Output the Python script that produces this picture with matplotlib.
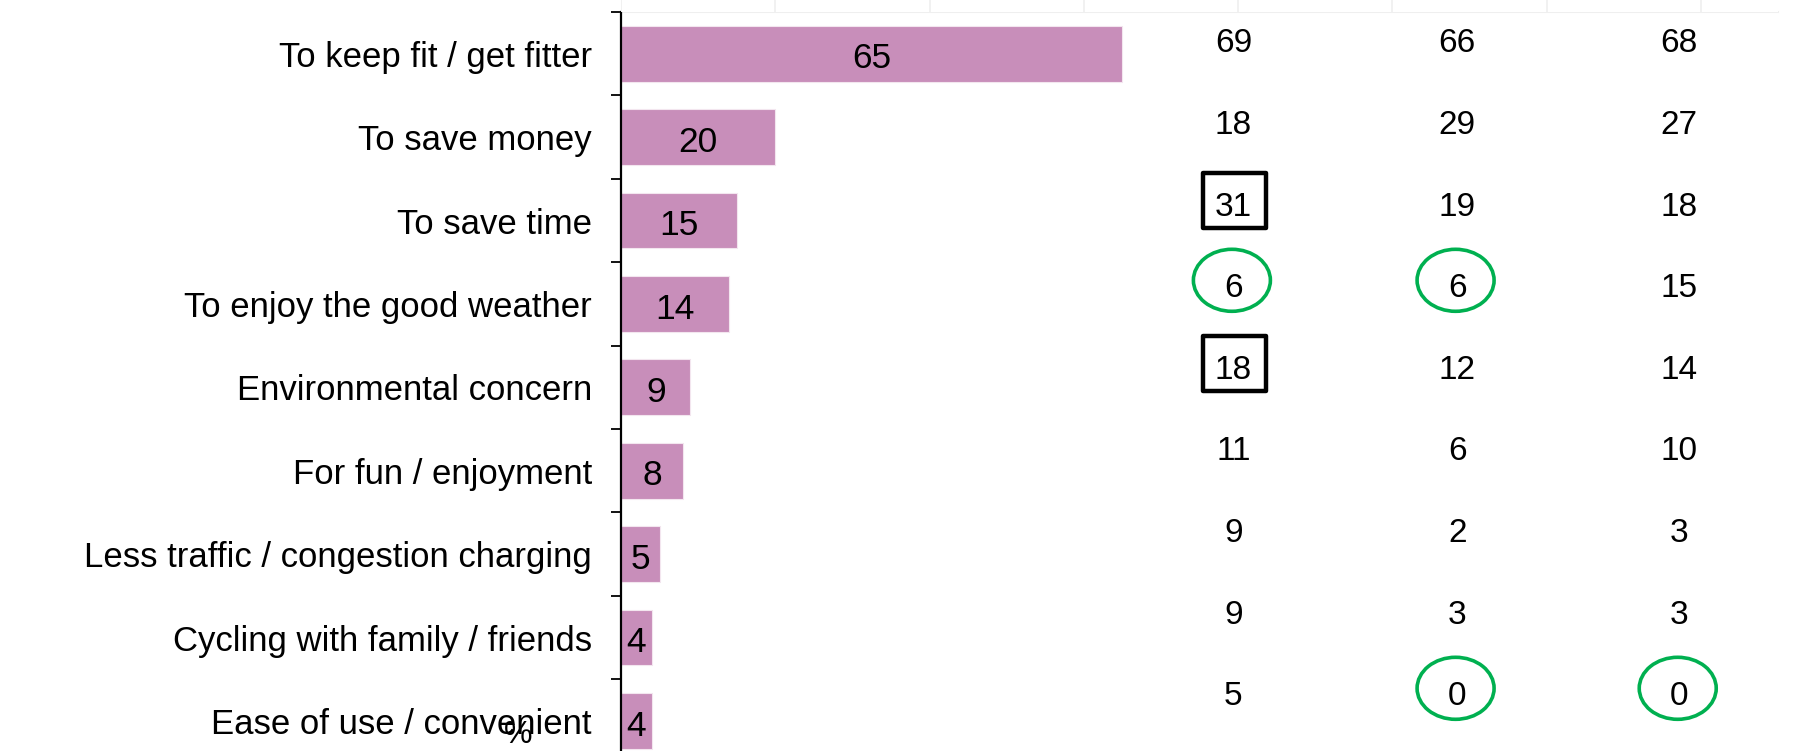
import matplotlib
matplotlib.use("Agg")
import matplotlib.pyplot as plt
from matplotlib.patches import Rectangle, Ellipse
from matplotlib.transforms import blended_transform_factory
import numpy as np

categories = ["To keep fit / get fitter", "To save money", "To save time",
              "To enjoy the good weather", "Environmental concern",
              "For fun / enjoyment", "Less traffic / congestion charging",
              "Cycling with family / friends", "Ease of use / convenient"]
overall = [65, 20, 15, 14, 9, 8, 5, 4, 4]
col1 = [69, 18, 31, 6, 18, 11, 9, 9, 5]
col2 = [66, 29, 19, 6, 12, 6, 2, 3, 0]
col3 = [68, 27, 18, 15, 14, 10, 3, 3, 0]
boxed = [(0, 2), (0, 4)]          # (column, row)
circled = [(0, 3), (1, 3), (1, 8), (2, 8)]

W, H = 1816, 751
plt.rcParams['font.family'] = ['Liberation Sans', 'DejaVu Sans']
fig = plt.figure(figsize=(W / 100, H / 100), dpi=100)

left_px, right_px, top_px = 621, 1778, 12
row_px = 83.4
n = len(categories)
ax_h = row_px * n
ax = fig.add_axes([left_px / W, 1 - (top_px + ax_h) / H, (right_px - left_px) / W, ax_h / H])
ax.set_xlim(0, 150)
ax.set_ylim(n - 0.5, -0.5)

bar_color = "#C88EBA"
y = np.arange(n)
ax.barh(y, overall, height=0.667, color=bar_color, edgecolor="#F3E6EF", linewidth=0.8, zorder=2)
for yi, v in zip(y, overall):
    ax.text(v / 2, yi + 0.02, str(v), ha="center", va="center_baseline", fontsize=25.5,
            color="black", zorder=3)

ax.set_yticks(y)
ax.set_yticklabels(categories, fontsize=25)
ax.tick_params(axis="y", which="major", length=0, pad=21)
ax.set_yticks(np.arange(-0.5, n, 1), minor=True)
ax.tick_params(axis="y", which="minor", length=7, width=1.3, color="black", direction="out")
ax.set_xticks([])
for s in ["right", "bottom"]:
    ax.spines[s].set_visible(False)
ax.spines["top"].set_color("#EFEFEF")
ax.spines["top"].set_linewidth(1.5)
ax.spines["left"].set_linewidth(1.6)
ax.spines["left"].set_color("black")
ax.spines["left"].set_zorder(4)

# grid stubs above
axg = fig.add_axes([left_px / W, 1 - top_px / H, (right_px - left_px) / W, top_px / H])
axg.set_xlim(0, 150)
axg.set_xticks(np.arange(0, 151, 20))
axg.grid(axis="x", color="#EFEFEF", linewidth=1.2)
axg.tick_params(length=0, labelbottom=False, labelleft=False)
axg.set_yticks([])
for s in axg.spines.values():
    s.set_visible(False)

# columns of numbers
tr = blended_transform_factory(ax.transData, fig.transFigure)
col_x = [79.4, 108.4, 137.2]
row0_px, row_step = 40.5, 81.6
cols = [col1, col2, col3]
for ci, vals in enumerate(cols):
    for ri, v in enumerate(vals):
        ax.text(col_x[ci], 1 - (row0_px + row_step * ri) / H, str(v), transform=tr,
                ha="center", va="center_baseline", fontsize=24, color="black", clip_on=False)

px_unit = 150 / (right_px - left_px)
for ci, ri in boxed:
    cx = col_x[ci] + 0.2
    cy = 1 - (row0_px + row_step * ri - 3) / H
    w, h = 63 * px_unit, 55 / H
    ax.add_patch(Rectangle((cx - w / 2, cy - h / 2), w, h, transform=tr, fill=False,
                           edgecolor="black", linewidth=3.2, clip_on=False, joinstyle="round"))
for ci, ri in circled:
    cx = col_x[ci] - 0.2
    cy = 1 - (row0_px + row_step * ri - 5) / H
    ax.add_patch(Ellipse((cx, cy), 77 * px_unit, 62 / H, transform=tr, fill=False,
                         edgecolor="#00B050", linewidth=2.6, clip_on=False))

fig.text(518 / W, 1 - 735 / H, "%", fontsize=23, ha="center", va="center")

fig.savefig("out.png", dpi=100)
